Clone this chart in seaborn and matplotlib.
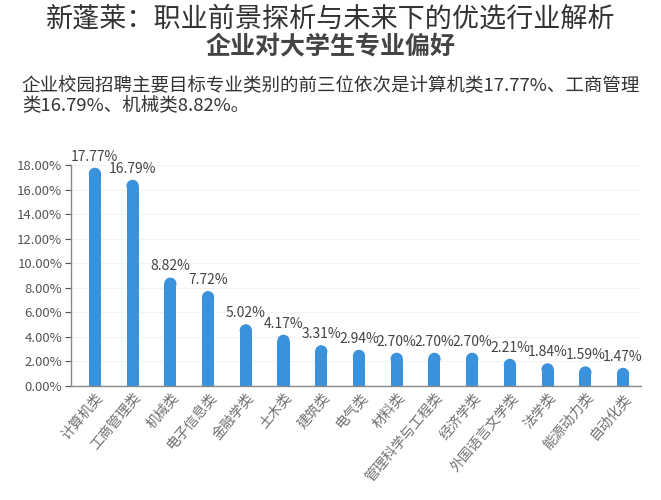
import matplotlib
matplotlib.use("Agg")
import matplotlib.pyplot as plt
import seaborn as sns
import pandas as pd
from matplotlib.ticker import FuncFormatter

categories = ["计算机类", "工商管理类", "机械类", "电子信息类", "金融学类", "土木类", "建筑类",
              "电气类", "材料类", "管理科学与工程类", "经济学类", "外国语言文学类", "法学类",
              "能源动力类", "自动化类"]
values = [17.77, 16.79, 8.82, 7.72, 5.02, 4.17, 3.31, 2.94, 2.70, 2.70, 2.70, 2.21, 1.84, 1.59, 1.47]
yticks = [0, 2, 4, 6, 8, 10, 12, 14, 16, 18]

title_text = "新蓬莱：职业前景探析与未来下的优选行业解析"
heading_text = "企业对大学生专业偏好"
sub_line1 = "企业校园招聘主要目标专业类别的前三位依次是计算机类17.77%、工商管理"
sub_line2 = "类16.79%、机械类8.82%。"

sns.set_theme(style="white")
plt.rcParams['font.family'] = ['Noto Sans CJK SC', 'DejaVu Sans']

BLUE = "#3A92DC"
GRAY = "#555555"

df = pd.DataFrame({"cat": categories, "val": values})

fig = plt.figure(figsize=(6.61, 5.0), dpi=100)
ax = fig.add_axes([0.107, 0.228, 0.863, 0.442])

sns.barplot(data=df, x="cat", y="val", color=BLUE, saturation=1, width=0.32, ax=ax)

ax.set_ylim(0, 18)
ax.set_xlim(-0.64, 14.48)

# rounded caps: radius in data units
r = 6 / 221 * 18
for p, v in zip(ax.patches, values):
    p.set_height(v - r)
    p.set_edgecolor("none")
ax.scatter(range(len(values)), [v - r for v in values], s=78, color=BLUE,
           edgecolors="none", zorder=3, clip_on=False)

for i, v in enumerate(values):
    ax.text(i, v + 0.35, f"{v:.2f}%", ha="center", va="bottom", fontsize=10, color="#444444")

ax.set_yticks(yticks)
ax.yaxis.set_major_formatter(FuncFormatter(lambda y, _: f"{y:.2f}%"))
ax.tick_params(axis="y", labelsize=9.5, colors=GRAY, length=4, width=0.8, left=True, direction="out", pad=2)
ax.tick_params(axis="x", labelsize=10, colors="#707070", length=0, pad=3)
ax.set_xticks(range(len(categories)))
ax.set_xticklabels(categories, rotation=50, ha="right", rotation_mode="anchor")
ax.set_xlabel("")
ax.set_ylabel("")
ax.grid(axis="y", color="#f3f3f3", linewidth=0.8)
ax.set_axisbelow(True)
for s in ["top", "right"]:
    ax.spines[s].set_visible(False)
for s in ["left", "bottom"]:
    ax.spines[s].set_color("#888888")
    ax.spines[s].set_linewidth(1.0)

fig.text(0.5, 0.962, title_text, ha="center", va="center", fontsize=19.5, color="#333333", fontweight="light")
fig.text(0.5, 0.905, heading_text, ha="center", va="center", fontsize=18, color="#444444", fontweight="bold")
fig.text(0.033, 0.83, sub_line1, ha="left", va="center", fontsize=13.3, color="#333333")
fig.text(0.033, 0.788, sub_line2, ha="left", va="center", fontsize=13.3, color="#333333")

fig.savefig("out.png", dpi=100)
